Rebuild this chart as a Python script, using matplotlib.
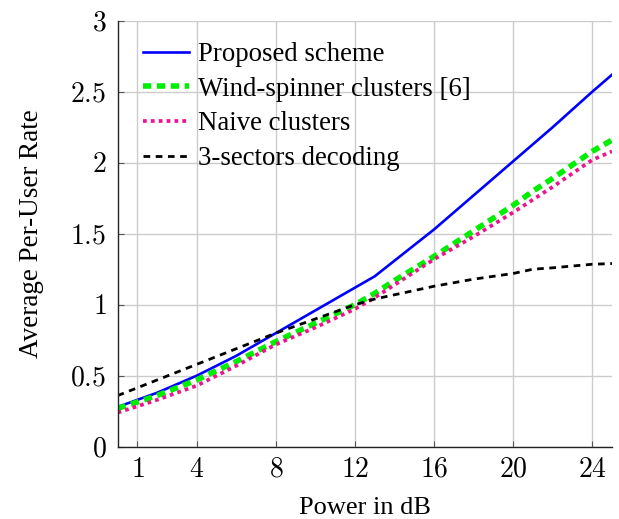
import numpy as np
import matplotlib
matplotlib.use('Agg')
import matplotlib.pyplot as plt
from matplotlib import rcParams

rcParams['font.family'] = ['Liberation Serif', 'DejaVu Serif']
rcParams['mathtext.fontset'] = 'cm'

# values
power_db = [0, 2, 4, 6, 8, 10, 12, 13, 14, 16, 18, 20, 21, 22, 24, 25]
proposed = [0.28, 0.38, 0.50, 0.64, 0.80, 0.96, 1.12, 1.20, 1.31, 1.53, 1.77, 2.01, 2.13, 2.25, 2.50, 2.62]
wind_spinner = [0.27, 0.36, 0.47, 0.60, 0.74, 0.87, 1.00, 1.08, 1.17, 1.34, 1.52, 1.70, 1.80, 1.89, 2.08, 2.16]
naive = [0.24, 0.33, 0.43, 0.57, 0.72, 0.84, 0.97, 1.05, 1.14, 1.32, 1.48, 1.65, 1.74, 1.83, 2.02, 2.08]
three_sectors = [0.36, 0.47, 0.58, 0.69, 0.80, 0.90, 1.00, 1.04, 1.07, 1.13, 1.18, 1.22, 1.25, 1.26, 1.285, 1.29]

x_ticks = [1, 4, 8, 12, 16, 20, 24]
y_ticks = [0, 0.5, 1, 1.5, 2, 2.5, 3]

fig = plt.figure(figsize=(6.19, 5.19), dpi=100)
ax = fig.add_axes([0.19, 0.1393, 0.7987, 0.8207])

ax.plot(power_db, proposed, color='#0000ff', lw=1.9, label='Proposed scheme')
ax.plot(power_db, wind_spinner, color='#00ee00', lw=4.0, dashes=(1.5, 1.0),
        label='Wind-spinner clusters [6]')
ax.plot(power_db, naive, color='#ee1490', lw=2.7, dashes=(1.0, 1.1),
        label='Naive clusters')
ax.plot(power_db, three_sectors, color='black', lw=2.0, dashes=(2.4, 2.0),
        label='3-sectors decoding')

ax.set_xlim(0, 25)
ax.set_ylim(0, 3)
ax.set_xticks(x_ticks)
ax.set_xticklabels(['$%g$' % t for t in x_ticks])
ax.set_yticks(y_ticks)
ax.set_yticklabels(['$%g$' % t for t in y_ticks])
ax.tick_params(direction='in', length=4, color='#555555', labelsize=20, pad=8)

ax.grid(True, color='#cccccc', lw=1)
ax.set_axisbelow(True)
for side in ['top', 'right']:
    ax.spines[side].set_visible(False)
for side in ['left', 'bottom']:
    ax.spines[side].set_color('#222222')
    ax.spines[side].set_linewidth(1)

ax.set_xlabel('Power in dB', fontsize=19, labelpad=10)
ax.set_ylabel('Average Per-User Rate', fontsize=19.5, labelpad=19)

ax.legend(loc='upper left', bbox_to_anchor=(0.03, 0.975), frameon=False,
          fontsize=19.3, handlelength=1.7, handletextpad=0.35, labelspacing=0.36,
          borderaxespad=0)

fig.savefig('out.png', dpi=100)
